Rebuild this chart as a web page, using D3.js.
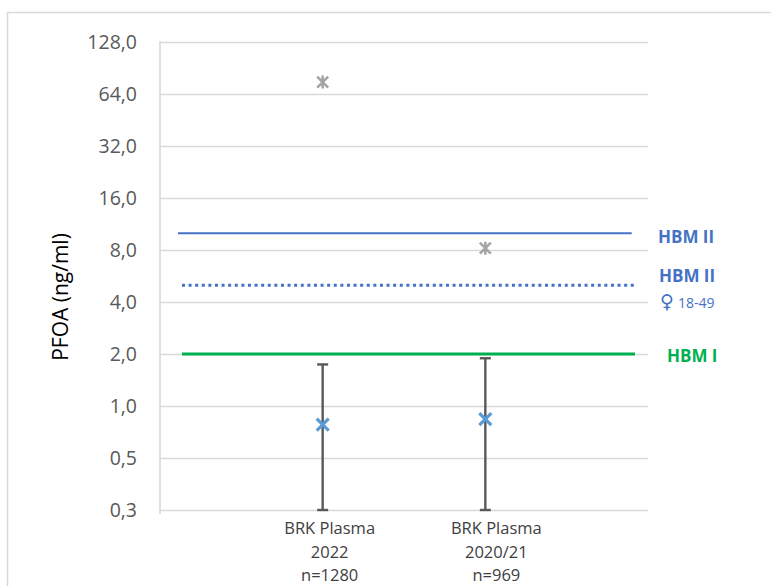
<!DOCTYPE html>
<html>
<head>
<meta charset="utf-8">
<script src="https://cdn.jsdelivr.net/npm/d3@7"></script>
<style>
  html, body { margin: 0; padding: 0; background: #fff; }
  svg { display: block; }
</style>
</head>
<body>
<svg id="chart" width="771" height="586"></svg>
<script>
// Sampling groups (x positions 1 and 2 on a 0..3 axis)
const groupPositions = [1, 2];
const groupLabels = [
  ["BRK Plasma", "2022", "n=1280"],
  ["BRK Plasma", "2020/21", "n=969"]
];
// PFOA plasma concentrations, ng/ml
const medians = [0.78, 0.84];
const upperWhisker = [1.74, 1.89];
const lowerWhisker = [0.25, 0.25];
const maxima = [75, 8.2];

// Human biomonitoring assessment values
const hbmValues = [10, 5, 2];
const hbmNames = ["HBM II", "HBM II", "HBM I"];
const hbmSubSymbols = ["", "\u2640", ""];
const hbmSubNames = ["", "18-49", ""];
const hbmColors = ["#4472c4", "#4472c4", "#00b050"];
const hbmDash = [null, "3,3.6", null];
const hbmFrom = [0.11, 0.135, 0.135];
const hbmTo = [2.9, 2.92, 2.92];

// Log2 axis ticks
const tickValues = [0.25, 0.5, 1, 2, 4, 8, 16, 32, 64, 128];
const tickLabels = ["0,3", "0,5", "1,0", "2,0", "4,0", "8,0", "16,0", "32,0", "64,0", "128,0"];

const svg = d3.select("#chart");
const font = "'Open Sans', 'Noto Sans', sans-serif";

// chart frame
svg.append("rect")
  .attr("x", 7.5).attr("y", 12.5)
  .attr("width", 820).attr("height", 620)
  .attr("fill", "#fff").attr("stroke", "#d9d9d9").attr("stroke-width", 1.5);

const x = d3.scaleLinear().domain([0, 3]).range([160, 648]);
const y = d3.scaleLog().base(2).domain([0.25, 128]).range([510, 42]);

// gridlines + tick labels via a left axis
const yAxis = d3.axisLeft(y)
  .tickValues(tickValues)
  .tickFormat((d, i) => tickLabels[i])
  .tickSize(-(x.range()[1] - x.range()[0]))
  .tickPadding(23);

const gAxis = svg.append("g")
  .attr("transform", `translate(${x.range()[0]},0)`)
  .call(yAxis);
gAxis.select(".domain").remove();
gAxis.selectAll(".tick line").attr("stroke", "#d9d9d9").attr("stroke-width", 1.6);
gAxis.selectAll(".tick text")
  .attr("fill", "#595959")
  .style("font-family", font)
  .style("font-size", "19.5px");

// vertical axis line
svg.append("line")
  .attr("x1", x(0)).attr("x2", x(0))
  .attr("y1", y(128) - 1).attr("y2", y(0.25) + 4)
  .attr("stroke", "#d9d9d9").attr("stroke-width", 1.6);

// axis title
svg.append("text")
  .attr("transform", `translate(68,297) rotate(-90)`)
  .attr("text-anchor", "middle")
  .attr("fill", "#000")
  .style("font-family", font)
  .style("font-size", "21px")
  .text("PFOA (ng/ml)");

// assessment value lines
hbmValues.forEach((v, i) => {
  svg.append("line")
    .attr("x1", x(hbmFrom[i])).attr("x2", x(hbmTo[i]))
    .attr("y1", y(v)).attr("y2", y(v))
    .attr("stroke", hbmColors[i])
    .attr("stroke-width", i === 0 ? 2.2 : 3)
    .attr("stroke-dasharray", hbmDash[i]);
});

// assessment value labels
const labelX = [658, 659, 667];
const labelDy = [10, -3, 8];
hbmValues.forEach((v, i) => {
  svg.append("text")
    .attr("x", labelX[i]).attr("y", y(v) + labelDy[i])
    .attr("fill", hbmColors[i])
    .style("font-family", font)
    .style("font-weight", "bold")
    .style("font-size", "17px")
    .text(hbmNames[i]);
  if (hbmSubNames[i]) {
    const t = svg.append("text")
      .attr("x", 660).attr("y", y(v) + 23)
      .attr("fill", hbmColors[i])
      .style("font-family", font)
      .style("font-size", "14px");
    t.append("tspan")
      .style("font-family", "'DejaVu Sans', sans-serif")
      .style("font-size", "19px")
      .text(hbmSubSymbols[i]);
    t.append("tspan").attr("dx", 4).text(hbmSubNames[i]);
  }
});

// whiskers
groupPositions.forEach((p, i) => {
  const cx = x(p);
  const g = svg.append("g").attr("stroke", "#595959").attr("stroke-width", 2.4);
  g.append("line").attr("x1", cx).attr("x2", cx)
    .attr("y1", y(upperWhisker[i])).attr("y2", y(lowerWhisker[i]));
  [upperWhisker[i], lowerWhisker[i]].forEach(v => {
    g.append("line").attr("x1", cx - 5.5).attr("x2", cx + 5.5)
      .attr("y1", y(v)).attr("y2", y(v));
  });
});

// median markers (x)
groupPositions.forEach((p, i) => {
  const cx = x(p), cy = y(medians[i]), r = 6;
  svg.append("path")
    .attr("d", `M${cx - r},${cy - r}L${cx + r},${cy + r}M${cx - r},${cy + r}L${cx + r},${cy - r}`)
    .attr("stroke", "#5b9bd5").attr("stroke-width", 3.2).attr("fill", "none");
});

// maximum markers (star)
groupPositions.forEach((p, i) => {
  const cx = x(p), cy = y(maxima[i]), r = 5.5;
  svg.append("path")
    .attr("d", `M${cx - r},${cy - r}L${cx + r},${cy + r}M${cx - r},${cy + r}L${cx + r},${cy - r}M${cx},${cy - r - 1}L${cx},${cy + r + 1}`)
    .attr("stroke", "#a5a5a5").attr("stroke-width", 2.6).attr("fill", "none");
});

// group labels
groupPositions.forEach((p, i) => {
  const t = svg.append("text")
    .attr("text-anchor", "middle")
    .attr("fill", "#404040")
    .style("font-family", font)
    .style("font-size", "16.5px");
  groupLabels[i].forEach((line, k) => {
    t.append("tspan")
      .attr("x", x(p) + 7 + i * 4)
      .attr("y", 534 + k * 23.5)
      .text(line);
  });
});
</script>
</body>
</html>
